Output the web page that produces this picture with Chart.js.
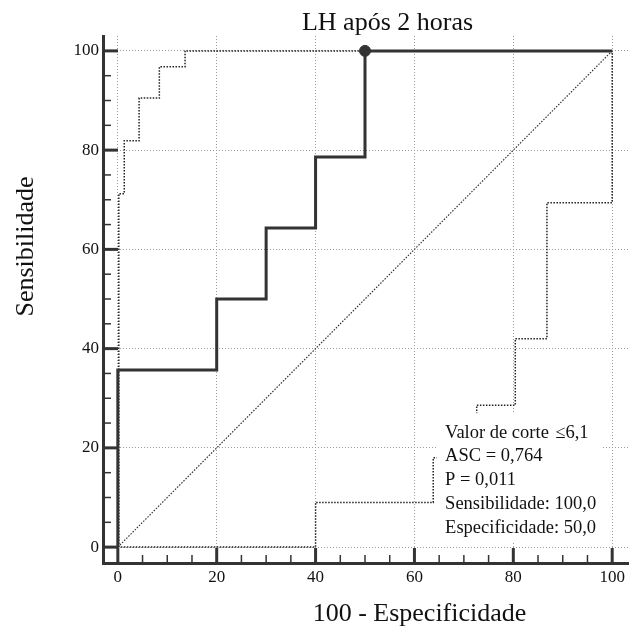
<!DOCTYPE html>
<html>
<head>
<meta charset="utf-8">
<script src="https://cdn.jsdelivr.net/npm/chart.js@4/dist/chart.umd.min.js"></script>
<style>
  body { margin: 0; background: #fff; }
</style>
</head>
<body>
<canvas id="rocChart" width="629" height="630"></canvas>
<script>
// curva ROC (pontos de canto)
const fprMain = [0, 0, 20, 20, 30, 30, 40, 40, 50, 50, 100];
const sensMain = [0, 35.7, 35.7, 50, 50, 64.3, 64.3, 78.6, 78.6, 100, 100];

// limites de confiança
const fprUpper = [0.2, 0.2, 1.3, 1.3, 4.3, 4.3, 8.4, 8.4, 13.6, 13.6, 100];
const sensUpper = [0, 71.2, 71.2, 81.9, 81.9, 90.5, 90.5, 96.8, 96.8, 100, 100];
const fprLower = [0, 40, 40, 63.8, 63.8, 68, 68, 72.6, 72.6, 80.4, 80.4, 86.8, 86.8, 100, 100];
const sensLower = [0, 0, 9, 9, 18, 18, 23, 23, 28.6, 28.6, 42, 42, 69.4, 69.4, 100];

// diagonal e ponto de corte
const diagX = [0, 100];
const diagY = [0, 100];
const cutX = [50];
const cutY = [100];

const tickValues = [0, 20, 40, 60, 80, 100];
const statLines = ['Valor de corte', 'ASC = 0,764', 'P = 0,011', 'Sensibilidade: 100,0', 'Especificidade: 50,0'];
const cutLabel = '≤6,1';

const titleText = 'LH após 2 horas';
const xTitle = '100 - Especificidade';
const yTitle = 'Sensibilidade';

const serif = "'Liberation Serif', 'Times New Roman', serif";

function pts(xs, ys) {
    return xs.map((x, i) => ({ x: x, y: ys[i] }));
}

// marcas dos eixos viradas para dentro
const innerTicks = {
    id: 'innerTicks',
    beforeDatasetsDraw(chart) {
        const ctx = chart.ctx;
        const a = chart.chartArea;
        const xs = chart.scales.x, ys = chart.scales.y;
        ctx.save();
        ctx.strokeStyle = '#333';
        for (let v = 0; v <= 100; v += 5) {
            const major = v % 20 === 0;
            ctx.lineWidth = major ? 3 : 1.5;
            const len = major ? 15 : 8;
            const px = xs.getPixelForValue(v);
            ctx.beginPath();
            ctx.moveTo(px, a.bottom);
            ctx.lineTo(px, a.bottom - len);
            ctx.stroke();
            const py = ys.getPixelForValue(v);
            ctx.beginPath();
            ctx.moveTo(a.left, py);
            ctx.lineTo(a.left + len, py);
            ctx.stroke();
        }
        ctx.restore();
    }
};

// caixa de estatísticas e títulos
const textBox = {
    id: 'textBox',
    afterDraw(chart) {
        const ctx = chart.ctx;
        const xs = chart.scales.x, ys = chart.scales.y;
        ctx.save();
        const left = xs.getPixelForValue(64.5), right = xs.getPixelForValue(98);
        const top = ys.getPixelForValue(27), bottom = ys.getPixelForValue(1.2);
        ctx.fillStyle = '#fff';
        ctx.fillRect(left, top, right - left, bottom - top);

        ctx.fillStyle = '#111';
        ctx.font = '18.5px ' + serif;
        ctx.textAlign = 'left';
        ctx.textBaseline = 'alphabetic';
        const tx = xs.getPixelForValue(66.2);
        statLines.forEach((s, i) => {
            ctx.fillText(s, tx, 437.5 + i * 23.8);
        });
        ctx.fillText(cutLabel, xs.getPixelForValue(88.5), 437.5);

        ctx.font = '26px ' + serif;
        ctx.textAlign = 'center';
        ctx.fillText(titleText, 387.5, 29.5);
        ctx.fillText(xTitle, 419.5, 621);
        ctx.translate(33.3, 246.5);
        ctx.rotate(-Math.PI / 2);
        ctx.fillText(yTitle, 0, 0);
        ctx.restore();
    }
};

const axisStyle = {
    grid: { color: '#9a9a9a', lineWidth: 1, drawTicks: false },
    border: { color: '#333', width: 3, dash: [1, 2] },
    ticks: {
        color: '#111',
        padding: 4,
        font: { family: serif, size: 17 },
        callback: (v) => String(v)
    },
    afterBuildTicks: (scale) => {
        scale.ticks = tickValues.map(v => ({ value: v }));
    }
};

const config = {
    type: 'line',
    data: {
        datasets: [
            {
                data: pts(cutX, cutY),
                showLine: false,
                pointRadius: 5.5,
                pointBackgroundColor: '#333',
                pointBorderColor: '#333'
            },
            {
                data: pts(fprMain, sensMain),
                borderColor: '#333',
                borderWidth: 3,
                pointRadius: 0
            },
            {
                data: pts(fprUpper, sensUpper),
                borderColor: '#222',
                borderWidth: 1.5,
                borderDash: [1.5, 1.5],
                pointRadius: 0
            },
            {
                data: pts(fprLower, sensLower),
                borderColor: '#222',
                borderWidth: 1.5,
                borderDash: [1.5, 1.5],
                pointRadius: 0
            },
            {
                data: pts(diagX, diagY),
                borderColor: '#333',
                borderWidth: 1.2,
                borderDash: [1.5, 1.5],
                pointRadius: 0
            }
        ]
    },
    options: {
        responsive: false,
        animation: false,
        layout: { autoPadding: false, padding: { top: 36, left: 73, right: 1, bottom: 42.6 } },
        plugins: {
            legend: { display: false },
            tooltip: { enabled: false },
            title: { display: false }
        },
        scales: {
            x: Object.assign({
                type: 'linear', min: -3, max: 103.2,
                afterFit: (scale) => {
                    scale.height = 24.4;
                    scale.paddingLeft = 0;
                    scale.paddingRight = 0;
                }
            }, axisStyle),
            y: Object.assign({
                type: 'linear', min: -3.2, max: 103,
                afterFit: (scale) => {
                    scale.width = 30;
                    scale.paddingTop = 0;
                    scale.paddingBottom = 0;
                }
            }, axisStyle)
        }
    },
    plugins: [innerTicks, textBox]
};

const ctx = document.getElementById('rocChart').getContext('2d');
const rocChart = new Chart(ctx, config);
</script>
</body>
</html>
